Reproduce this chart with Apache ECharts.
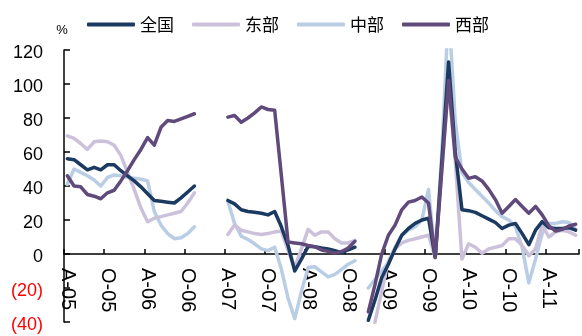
<!DOCTYPE html>
<html>
<head>
<meta charset="utf-8">
<script src="https://cdn.jsdelivr.net/npm/echarts@6/dist/echarts.min.js"></script>
<style>
  html, body { margin: 0; padding: 0; background: #fff; }
  #chart { width: 582px; height: 336px; }
</style>
</head>
<body>
<div id="chart"></div>
<script>
// Monthly categories, Apr 2005 to Aug 2011
const categories = [
  '2005-04','2005-05','2005-06','2005-07','2005-08','2005-09','2005-10','2005-11','2005-12',
  '2006-01','2006-02','2006-03','2006-04','2006-05','2006-06','2006-07','2006-08','2006-09','2006-10','2006-11','2006-12',
  '2007-01','2007-02','2007-03','2007-04','2007-05','2007-06','2007-07','2007-08','2007-09','2007-10','2007-11','2007-12',
  '2008-01','2008-02','2008-03','2008-04','2008-05','2008-06','2008-07','2008-08','2008-09','2008-10','2008-11','2008-12',
  '2009-01','2009-02','2009-03','2009-04','2009-05','2009-06','2009-07','2009-08','2009-09','2009-10','2009-11','2009-12',
  '2010-01','2010-02','2010-03','2010-04','2010-05','2010-06','2010-07','2010-08','2010-09','2010-10','2010-11','2010-12',
  '2011-01','2011-02','2011-03','2011-04','2011-05','2011-06','2011-07','2011-08'
];

// Labels shown every six months along the x axis
const tickLabels = ['A-05','O-05','A-06','O-06','A-07','O-07','A-08','O-08','A-09','O-09','A-10','O-10','A-11'];

const seriesNames = ['全国', '东部', '中部', '西部'];

// Growth rates, % (null = no data for that month)
const national = [
  56, 55.5, 52.5, 49.5, 51, 49.5, 52.5, 52.5, 49, 46, 43, 39.5, 35.5, 31.5, 31, 30.5, 30, 33, 36.5, 40,
  null, null, null, null,
  31.5, 29.5, 26, 25, 24.5, 24, 23, 25, 16, 5, -10, -3, 4.5, 4.3, 3.5, 3, 2, 0.8, 2.5, 4,
  null,
  -39, -27, -14, -6, 3, 11, 15, 18, 20, 21, -2, 55, 113, 60, 26, 25.5, 24.5, 22.5, 20.5, 18.5,
  15, 17, 18, 12, 5.5, 14, 19, 15.5, 15, 15, 15.5, 14
];

const east = [
  69.5, 68, 65, 61.5, 66, 66.5, 66, 64, 58, 48, 38, 27, 19, 21, 22, 23, 24, 25, 30, 36,
  null, null, null, null,
  11.5, 17, 14, 13, 12, 11.5, 12, 13, 13.5, 2, -8, 3, 14.5, 11, 13, 13, 9, 6.5, 6.5, 8,
  null,
  -60, -40, -22, -4, 3, 6.5, 8, 9, 10, 11, -2, 50, 100, 55, -3, 6, 4, 0.5, 3, 4,
  5, 9, 9, 5, -1, 3, 17, 10, 13, 14, 13, 11
];

const central = [
  41, 50, 48, 46, 43.5, 40, 45, 46.5, 46, 45, 44.5, 44, 43, 25, 17, 12, 9, 9.5, 12, 16,
  null, null, null, null,
  31, 18, 10.5, 8.5, 6, 3, 2, 4, -9, -26, -38, -22, -8, -7.5, -10.5, -13.5, -12, -9, -6, -4,
  null,
  -20, -15, -10, -5, 4, 11, 14, 16, 20, 38, -2, 60, 145, 78, 48, 42, 38, 34, 30, 25.5,
  22, 20, 16, 4, -17, -3, 12, 18, 18, 19, 18.5, 14.5
];

const west = [
  46, 40, 39.5, 35, 34, 32.5, 36, 37.5, 43, 49, 55.5, 61.5, 68.5, 64, 74.5, 78.5, 78, 79.5, 81, 82.5,
  null, null, null, null,
  80.5, 81.5, 77.5, 80, 83, 86.5, 85, 84.5, 46, 7, 6.5, 6, 5, 4.3, 2.4, 1.6, 0.5, 1.5, 3.5, 7.5,
  null,
  -34, -18, 0, 11, 17, 26, 30.5, 31.5, 33.5, 30, -2, 50, 102, 57, 50, 44.5, 45.5, 43, 38, 32,
  24, 28, 32, 28, 24, 28, 23, 16.5, 13.5, 14.5, 16.5, 17.5
];

const colors = {
  '全国': '#1B3A61',
  '东部': '#CCC1DA',
  '中部': '#B9CDE5',
  '西部': '#604A7B'
};

const Y_MIN = -40, Y_MAX = 120;
const GRID = { left: 64, right: 3, top: 50, bottom: 14 };
const CHART_H = 336;

// The month labels hang just under the zero line rather than under the plot bottom.
const plotH = CHART_H - GRID.top - GRID.bottom;
const zeroToBottom = plotH * (0 - Y_MIN) / (Y_MAX - Y_MIN);
const xLabelGap = 14;

function lineSeries(name, data, z) {
  return {
    name: name,
    type: 'line',
    data: data,
    z: z,
    symbol: 'none',
    clip: true,
    connectNulls: false,
    color: colors[name],
    lineStyle: { width: 3.5, color: colors[name], cap: 'round', join: 'round' },
    emphasis: { disabled: true }
  };
}

const chart = echarts.init(document.getElementById('chart'), null, { renderer: 'canvas' });

chart.setOption({
  animation: false,
  backgroundColor: '#ffffff',
  grid: Object.assign({ containLabel: false, outerBoundsMode: 'none' }, GRID),
  legend: {
    data: seriesNames,
    left: 87,
    top: 16,
    padding: 0,
    icon: 'roundRect',
    itemWidth: 48,
    itemHeight: 4,
    itemGap: 18,
    textStyle: { fontFamily: 'Noto Sans CJK SC', fontSize: 17, color: '#000' }
  },
  xAxis: {
    type: 'category',
    data: categories,
    boundaryGap: true,
    axisLine: { onZero: true, lineStyle: { color: '#000', width: 1.5 } },
    axisTick: { show: true, inside: true, length: 5, interval: 5, lineStyle: { color: '#000', width: 1.5 } },
    axisLabel: {
      interval: 5,
      rotate: -90,
      margin: xLabelGap - zeroToBottom,
      hideOverlap: false,
      fontFamily: 'Liberation Sans',
      fontSize: 20,
      color: '#000',
      formatter: function (val, idx) { return tickLabels[Math.round(idx / 6)]; }
    },
    splitLine: { show: false }
  },
  yAxis: {
    type: 'value',
    min: Y_MIN,
    max: Y_MAX,
    interval: 20,
    name: '%',
    nameLocation: 'end',
    nameGap: 13,
    nameTextStyle: { fontFamily: 'Liberation Sans', fontSize: 13, color: '#000', padding: [0, 4, 0, 0] },
    axisLine: { show: true, onZero: false, lineStyle: { color: '#000', width: 1.5 } },
    axisTick: { show: true, inside: true, length: 6, lineStyle: { color: '#000', width: 1.5 } },
    axisLabel: {
      margin: 21,
      formatter: function (v) {
        return v < 0 ? '{neg|(' + (-v) + ')}' : '{pos|' + v + '}';
      },
      rich: {
        pos: { fontFamily: 'Liberation Sans', fontSize: 18, color: '#000000', padding: [6, 0, 0, 0] },
        neg: { fontFamily: 'Liberation Sans', fontSize: 18, color: '#FF0000', padding: [6, 0, 0, 0] }
      }
    },
    splitLine: { show: false }
  },
  series: [
    lineSeries('中部', central, 2),
    lineSeries('东部', east, 3),
    lineSeries('全国', national, 4),
    lineSeries('西部', west, 5)
  ]
});
</script>
</body>
</html>
